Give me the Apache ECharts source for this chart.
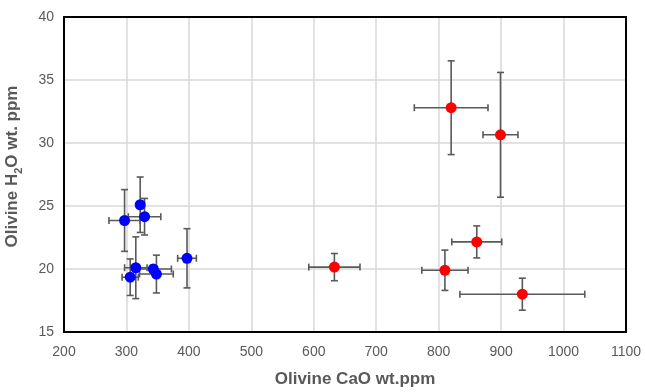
<!DOCTYPE html>
<html>
<head>
<meta charset="utf-8">
<script src="https://cdn.jsdelivr.net/npm/echarts@6/dist/echarts.min.js"></script>
<style>html,body{margin:0;padding:0;background:#fff}#c{width:645px;height:392px}</style>
</head>
<body>
<div id="c"></div>
<script>
// Blue group
const blueCaO    = [297, 322, 329, 315, 306, 343, 348, 397];
const blueH2O    = [23.85, 25.1, 24.15, 20.1, 19.35, 20.0, 19.6, 20.85];
const blueCaOErr = [25, 5, 26, 18, 13, 29, 27, 15];
const blueH2OErr = [2.45, 2.2, 1.45, 2.45, 1.45, 0.3, 1.5, 2.35];
// Red group
const redCaO     = [820, 899, 861, 810, 934, 633];
const redH2O     = [32.8, 30.65, 22.15, 19.9, 18.0, 20.15];
const redCaOErr  = [59, 28, 40, 37, 100, 41];
const redH2OErr  = [3.72, 4.95, 1.27, 1.6, 1.27, 1.08];

const xTicks = [200, 1100, 100];
const yTicks = [15, 40, 5];

function errData(xs, ys, exs, eys) {
  return xs.map((x, i) => [x, ys[i], exs[i], eys[i]]);
}
function renderErr(params, api) {
  const x = api.value(0), y = api.value(1), ex = api.value(2), ey = api.value(3);
  const l = api.coord([x - ex, y]), r = api.coord([x + ex, y]);
  const t = api.coord([x, y + ey]), b = api.coord([x, y - ey]);
  const cap = 3.5;
  const st = { stroke: '#595959', lineWidth: 1.6 };
  const line = (x1, y1, x2, y2) => ({ type: 'line', shape: { x1, y1, x2, y2 }, style: st });
  return {
    type: 'group',
    children: [
      line(l[0], l[1], r[0], r[1]),
      line(l[0], l[1] - cap, l[0], l[1] + cap),
      line(r[0], r[1] - cap, r[0], r[1] + cap),
      line(t[0], t[1], b[0], b[1]),
      line(t[0] - cap, t[1], t[0] + cap, t[1]),
      line(b[0] - cap, b[1], b[0] + cap, b[1])
    ]
  };
}

const border = { show: true, onZero: false, lineStyle: { color: '#000', width: 2 } };
const tickLabel = { color: '#595959', fontSize: 14, fontFamily: 'Liberation Sans' };

const chart = echarts.init(document.getElementById('c'));
chart.setOption({
  animation: false,
  backgroundColor: '#fff',
  grid: { left: 64, right: 19, top: 17, bottom: 60, containLabel: false, outerBoundsMode: 'none' },
  xAxis: [{
    type: 'value', min: xTicks[0], max: xTicks[1], interval: xTicks[2], position: 'bottom',
    axisLine: border, axisTick: { show: false },
    splitLine: { lineStyle: { color: '#d9d9d9', width: 1.5 } },
    axisLabel: Object.assign({ margin: 13, formatter: v => String(v) }, tickLabel),
    name: 'Olivine CaO wt.ppm', nameLocation: 'middle', nameGap: 39,
    nameTextStyle: { color: '#595959', fontSize: 17, fontWeight: 'bold', fontFamily: 'Liberation Sans', padding: [0, 0, 0, 20] }
  }, {
    type: 'value', min: xTicks[0], max: xTicks[1], interval: xTicks[2], position: 'top',
    axisLine: border, axisTick: { show: false }, axisLabel: { show: false }, splitLine: { show: false }
  }],
  yAxis: [{
    type: 'value', min: yTicks[0], max: yTicks[1], interval: yTicks[2], position: 'left',
    axisLine: border, axisTick: { show: false },
    splitLine: { lineStyle: { color: '#d9d9d9', width: 1.5 } },
    axisLabel: Object.assign({ margin: 10 }, tickLabel),
    name: '{a|Olivine H}{sub|2}{a|O wt. ppm}', nameLocation: 'middle', nameGap: 40,
    nameTextStyle: {
      color: '#595959', fontSize: 17, fontWeight: 'bold', fontFamily: 'Liberation Sans', padding: [0, 0, 0, 16],
      rich: {
        a: { fontSize: 17, fontWeight: 'bold', color: '#595959', fontFamily: 'Liberation Sans', lineHeight: 24, verticalAlign: 'middle' },
        sub: { fontSize: 11, fontWeight: 'bold', color: '#595959', fontFamily: 'Liberation Sans', lineHeight: 11, verticalAlign: 'bottom' }
      }
    }
  }, {
    type: 'value', min: yTicks[0], max: yTicks[1], interval: yTicks[2], position: 'right',
    axisLine: border, axisTick: { show: false }, axisLabel: { show: false }, splitLine: { show: false }
  }],
  series: [
    { type: 'custom', renderItem: renderErr, data: errData(blueCaO, blueH2O, blueCaOErr, blueH2OErr), z: 2 },
    { type: 'custom', renderItem: renderErr, data: errData(redCaO, redH2O, redCaOErr, redH2OErr), z: 2 },
    { type: 'scatter', data: blueCaO.map((x, i) => [x, blueH2O[i]]), symbolSize: 11, itemStyle: { color: '#0000ff', opacity: 1 }, z: 5 },
    { type: 'scatter', data: redCaO.map((x, i) => [x, redH2O[i]]), symbolSize: 11, itemStyle: { color: '#ff0000', opacity: 1 }, z: 5 }
  ]
});
</script>
</body>
</html>
